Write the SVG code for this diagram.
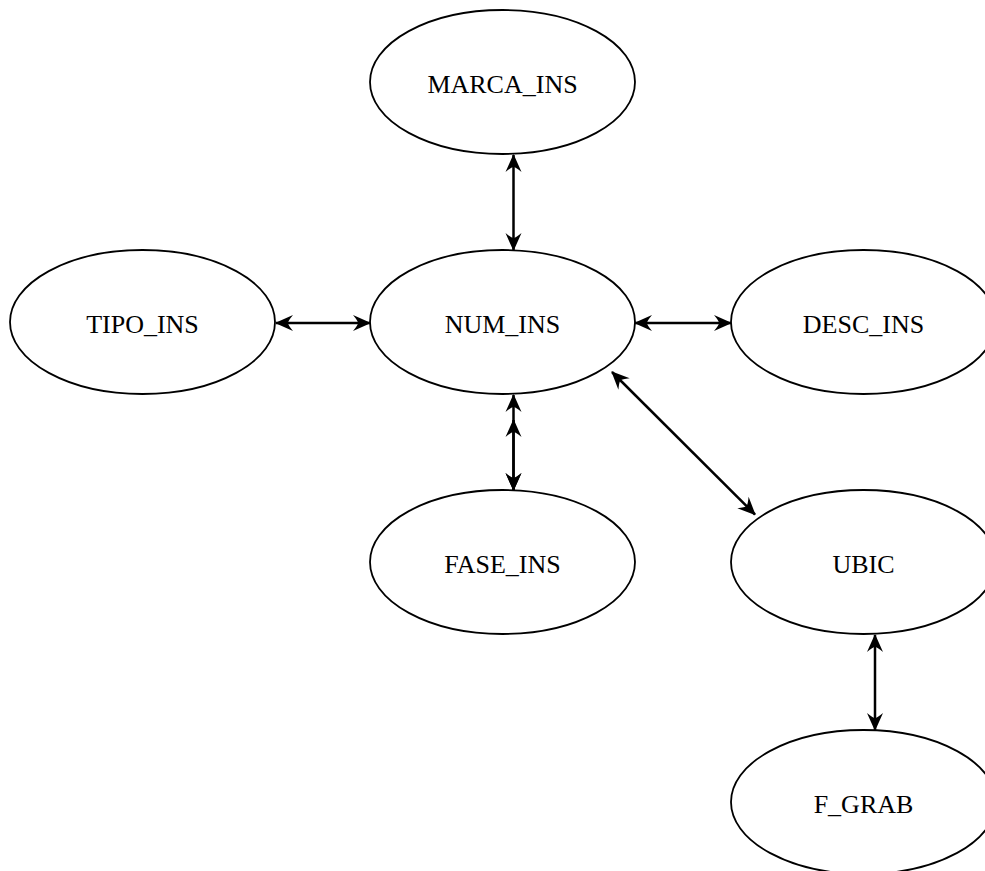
<svg xmlns="http://www.w3.org/2000/svg" width="985" height="871" viewBox="0 0 985 871">
<style>
.n ellipse{fill:#fff;stroke:#000;stroke-width:1.8}
.n text{font-family:"Liberation Serif","Times New Roman",serif;font-size:26px;fill:#000;text-anchor:middle}
.e path{fill:none;stroke:#000;stroke-width:2.5;marker-start:url(#ah);marker-end:url(#ah)}
</style>
<defs>
<marker id="ah" markerUnits="userSpaceOnUse" viewBox="-19 -9 20 18" refX="0" refY="0" markerWidth="20" markerHeight="18" orient="auto-start-reverse">
<path d="M1,0 L-17,-8 Q-12,-2 -12,0 Q-12,2 -17,8 Z" fill="#000"/>
</marker>
</defs>
<rect width="985" height="871" fill="#fff"/>
<g id="MARCA_INS" class="n"><ellipse cx="502.5" cy="82" rx="132.5" ry="72"/><text x="502.5" y="93">MARCA_INS</text></g>
<g id="TIPO_INS" class="n"><ellipse cx="142.5" cy="322" rx="132.5" ry="72"/><text x="142.5" y="333">TIPO_INS</text></g>
<g id="NUM_INS" class="n"><ellipse cx="502.5" cy="322" rx="132.5" ry="72"/><text x="502.5" y="333">NUM_INS</text></g>
<g id="DESC_INS" class="n"><ellipse cx="863.5" cy="322" rx="132.5" ry="72"/><text x="863.5" y="333">DESC_INS</text></g>
<g id="FASE_INS" class="n"><ellipse cx="502.5" cy="562" rx="132.5" ry="72"/><text x="502.5" y="573">FASE_INS</text></g>
<g id="UBIC" class="n"><ellipse cx="863.5" cy="562" rx="132.5" ry="72"/><text x="863.5" y="573">UBIC</text></g>
<g id="F_GRAB" class="n"><ellipse cx="863.5" cy="802" rx="132.5" ry="72"/><text x="863.5" y="813">F_GRAB</text></g>
<g id="edges" class="e">
<path d="M513.5,155 L513.5,250"/>
<path d="M276,323 L370,323"/>
<path d="M635,323 L731,323"/>
<path d="M513.5,395 L513.5,490"/>
<path d="M513.5,420 L513.5,490"/>
<path d="M612,372 L755,514.5"/>
<path d="M875,635 L875,730"/>
</g>
</svg>
